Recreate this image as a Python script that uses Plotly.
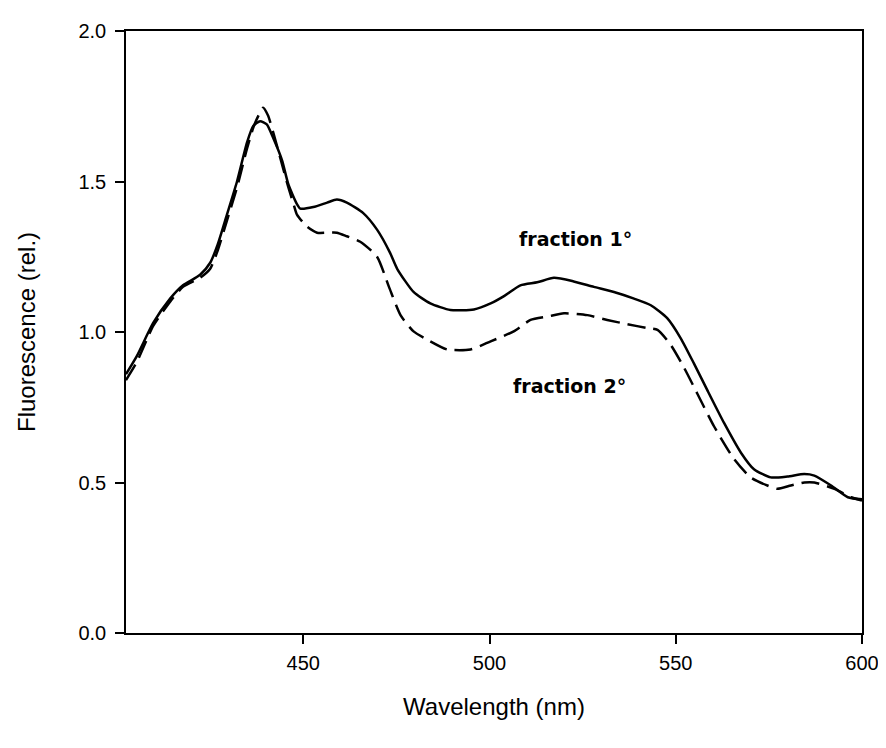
import plotly.graph_objects as go

# Fraction 1 (solid)
wl_f1 = [402.4, 405.3, 409.7, 414.2, 417.7, 422.3, 425.0, 427.0, 429.5, 432.2, 434.9, 436.6,
         438.4, 440.2, 441.9, 444.3, 446.0, 448.3, 449.2, 452.7, 456.4, 459.0, 461.7, 466.1,
         469.8, 473.3, 475.2, 479.6, 484.1, 489.5, 495.8, 500.3, 504.0, 508.3, 512.8, 517.3,
         522.6, 528.0, 533.4, 538.8, 543.3, 547.7, 551.3, 554.9, 558.5, 563.0, 567.5, 571.0,
         575.5, 580.0, 584.5, 587.2, 591.7, 596.2, 600.0]
fl_f1 = [0.86, 0.92, 1.03, 1.11, 1.155, 1.19, 1.23, 1.29, 1.39, 1.50, 1.63, 1.685,
         1.70, 1.69, 1.645, 1.57, 1.49, 1.425, 1.41, 1.415, 1.43, 1.44, 1.43, 1.395,
         1.34, 1.263, 1.21, 1.133, 1.095, 1.073, 1.075, 1.095, 1.12, 1.155, 1.165, 1.18,
         1.168, 1.15, 1.133, 1.111, 1.089, 1.046, 0.98, 0.895, 0.806, 0.697, 0.599, 0.544,
         0.517, 0.52, 0.528, 0.523, 0.49, 0.451, 0.444]

# Fraction 2 (dashed)
wl_f2 = [402.4, 405.3, 409.7, 414.2, 417.7, 422.3, 425.0, 427.0, 429.5, 432.2, 434.9, 436.6,
         438.0, 439.2, 440.5, 442.0, 444.0, 446.0, 447.5, 448.3, 451.0, 453.7, 456.5, 459.0,
         461.7, 465.3, 469.8, 473.0, 476.1, 479.6, 483.2, 488.6, 494.9, 500.3, 506.5, 511.0,
         515.5, 520.0, 526.3, 531.6, 537.0, 542.4, 545.1, 548.6, 552.2, 555.8, 560.3, 565.7,
         570.1, 574.6, 577.3, 580.9, 584.5, 587.2, 592.6, 597.1, 600.0]
fl_f2 = [0.84, 0.90, 1.02, 1.10, 1.15, 1.18, 1.21, 1.27, 1.37, 1.48, 1.61, 1.68,
         1.72, 1.745, 1.72, 1.66, 1.57, 1.48, 1.42, 1.39, 1.35, 1.33, 1.33, 1.33,
         1.318, 1.30, 1.25, 1.15, 1.056, 1.002, 0.975, 0.942, 0.942, 0.969, 1.002, 1.04,
         1.051, 1.062, 1.056, 1.04, 1.026, 1.013, 1.007, 0.958, 0.882, 0.795, 0.686, 0.577,
         0.517, 0.49, 0.479, 0.49, 0.50, 0.50, 0.479, 0.451, 0.44]

x_ticks = [450, 500, 550, 600]
y_ticks = [0.0, 0.5, 1.0, 1.5, 2.0]

labels = ["fraction 1°", "fraction 2°"]
label_x = [523.0, 521.5]
label_y = [1.31, 0.82]

fig = go.Figure()
fig.add_trace(go.Scatter(x=wl_f1, y=fl_f1, mode="lines",
                         line=dict(color="black", width=2.5, shape="spline", smoothing=0.6),
                         showlegend=False))
fig.add_trace(go.Scatter(x=wl_f2, y=fl_f2, mode="lines",
                         line=dict(color="black", width=2.5, dash="18px,8px", shape="spline", smoothing=0.6),
                         showlegend=False))

for t, xx, yy in zip(labels, label_x, label_y):
    fig.add_annotation(x=xx, y=yy, xref="x", yref="y", text=t, showarrow=False,
                       font=dict(family="DejaVu Sans", size=19, color="black", weight="bold"))

axis_common = dict(showline=True, linecolor="black", linewidth=1.5, mirror=True,
                   ticks="outside", ticklen=9, tickwidth=1.5, tickcolor="black",
                   showgrid=False, zeroline=False,
                   tickfont=dict(family="Liberation Sans", size=20, color="black"))

fig.update_xaxes(range=[402.4, 600], tickvals=x_ticks, ticktext=[str(v) for v in x_ticks],
                 title=dict(text="Wavelength (nm)", font=dict(family="Liberation Sans", size=24, color="black"),
                            standoff=25),
                 ticklabelstandoff=2, **axis_common)
fig.update_yaxes(range=[0, 2.0], tickvals=y_ticks, ticktext=[f"{v:.1f}" for v in y_ticks],
                 title=dict(text="Fluorescence (rel.)", font=dict(family="Liberation Sans", size=24, color="black"),
                            standoff=36),
                 ticklabelstandoff=5, **axis_common)

fig.update_layout(width=886, height=748, margin=dict(l=118, r=32, t=13, b=123),
                  paper_bgcolor="white", plot_bgcolor="white")

fig.write_html("out.html")
